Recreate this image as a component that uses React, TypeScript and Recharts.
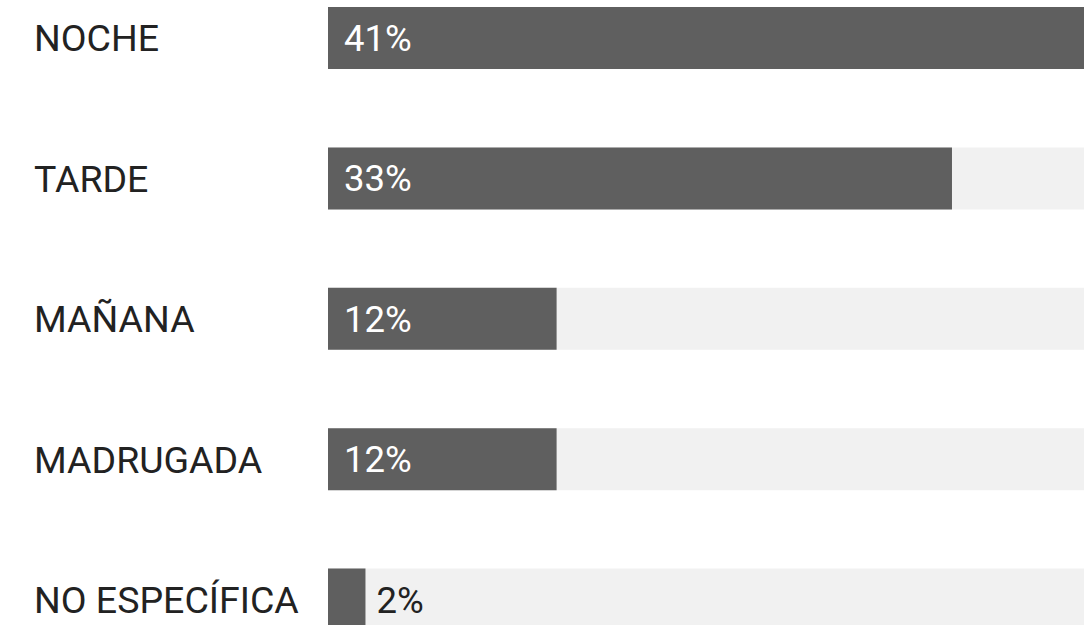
import React from "react";
import { BarChart, Bar, XAxis, YAxis, LabelList } from "recharts";

const categories = ["NOCHE", "TARDE", "MAÑANA", "MADRUGADA", "NO ESPECÍFICA"];
const values = [40.7, 33.3, 12.2, 12.2, 2.0];
const valueLabels = ["41%", "33%", "12%", "12%", "2%"];

const data = categories.map((name, i) => ({ name, value: values[i], label: valueLabels[i] }));

const FONT = "Roboto, 'Noto Sans', sans-serif";

const CategoryTick = (props: any) => {
  const { y, payload } = props;
  return (
    <text x={34} y={y} dy={13.2} textAnchor="start" fill="#222222" fontSize={37.5} fontFamily={FONT}>
      {payload.value}
    </text>
  );
};

const ValueLabel = (props: any) => {
  const { x, y, width, height, value } = props;
  const inside = width > 90;
  const tx = inside ? x + 16 : x + width + 11;
  return (
    <text
      x={tx}
      y={y + height / 2}
      dy={13}
      textAnchor="start"
      fill={inside ? "#ffffff" : "#222222"}
      fontSize={36.5}
      fontFamily={FONT}
    >
      {value}
    </text>
  );
};

export default function App() {
  return (
    <div style={{ position: "fixed", left: 0, top: 0, width: 1084, height: 625, overflow: "hidden", background: "#fff" }}>
      <div style={{ position: "absolute", left: 0, top: -32 }}>
        <BarChart
          width={1115}
          height={702}
          data={data}
          layout="vertical"
          margin={{ top: 0, right: 0, bottom: 0, left: 0 }}
          barSize={62}
        >
          <XAxis type="number" domain={[0, 42]} hide />
          <YAxis
            type="category"
            dataKey="name"
            width={328}
            axisLine={false}
            tickLine={false}
            tick={<CategoryTick />}
            interval={0}
          />
          <Bar dataKey="value" fill="#5f5f5f" background={{ fill: "#f1f1f1" }} isAnimationActive={false}>
            <LabelList dataKey="label" content={<ValueLabel />} />
          </Bar>
        </BarChart>
      </div>
    </div>
  );
}
